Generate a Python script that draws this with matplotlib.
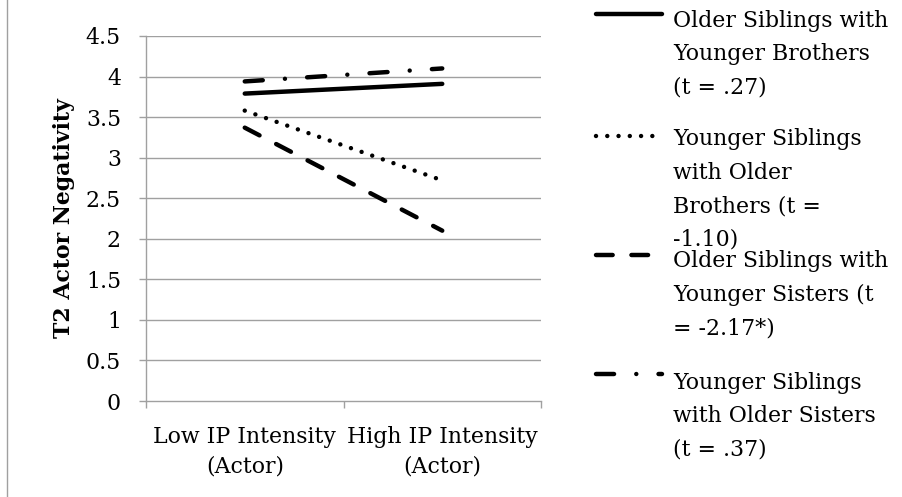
import matplotlib
matplotlib.use('Agg')
import matplotlib.pyplot as plt
from matplotlib.lines import Line2D

plt.rcParams['font.family'] = ['DejaVu Serif']
plt.rcParams['lines.scale_dashes'] = False

# data
categories = ['Low IP Intensity\n(Actor)', 'High IP Intensity\n(Actor)']
older_yb = [3.79, 3.91]   # Older Siblings with Younger Brothers
younger_ob = [3.58, 2.72] # Younger Siblings with Older Brothers
older_ys = [3.37, 2.10]   # Older Siblings with Younger Sisters
younger_os = [3.94, 4.10] # Younger Siblings with Older Sisters

labels = ['Older Siblings with\nYounger Brothers\n(t = .27)',
          'Younger Siblings\nwith Older\nBrothers (t =\n-1.10)',
          'Older Siblings with\nYounger Sisters (t\n= -2.17*)',
          'Younger Siblings\nwith Older Sisters\n(t = .37)']
yticks = [0, 0.5, 1, 1.5, 2, 2.5, 3, 3.5, 4, 4.5]
ytick_labels = ['0', '0.5', '1', '1.5', '2', '2.5', '3', '3.5', '4', '4.5']

W, H = 902, 497
fig = plt.figure(figsize=(W / 100, H / 100), dpi=100)
ax = fig.add_axes([146 / W, 1 - 401 / H, (541 - 146) / W, (401 - 36) / H])

lw = 3.2
styles = [
    dict(ls='-', solid_capstyle='round'),
    dict(ls=(0, (0.01, 8.1)), dash_capstyle='round'),
    dict(ls=(0, (12.0, 13.5)), dash_capstyle='round'),
    dict(ls=(0, (13.0, 16.0, 0.01, 16.0)), dash_capstyle='round'),
]
series = [older_yb, younger_ob, older_ys, younger_os]

x = [0, 1]
for s, st in zip(series, styles):
    ax.plot(x, s, color='black', lw=lw, **st)

fs = 15.8
ax.set_xlim(-0.5, 1.5)
ax.set_ylim(0, 4.5)
ax.set_yticks(yticks)
ax.set_yticklabels(ytick_labels)
ax.set_xticks([-0.5, 0.5, 1.5])
ax.set_xticklabels([])
ax.set_xticks(x, minor=True)
ax.set_xticklabels(categories, minor=True, linespacing=1.45)
ax.tick_params(axis='x', which='minor', length=0, pad=18, labelsize=fs)
ax.tick_params(axis='x', which='major', length=5, width=1, color='#a0a0a0', direction='out')
ax.tick_params(axis='y', length=5, width=1, color='#a0a0a0', pad=13, labelsize=fs)

for yv in yticks[1:]:
    ax.axhline(yv, color='#a0a0a0', lw=1.0, zorder=0)
for sp in ['top', 'right']:
    ax.spines[sp].set_visible(False)
for sp in ['left', 'bottom']:
    ax.spines[sp].set_color('#a0a0a0')
    ax.spines[sp].set_linewidth(1.0)

ax.set_ylabel('T2 Actor Negativity', fontsize=fs, fontweight='bold', labelpad=8)

# left frame edge
fig.add_artist(Line2D([7 / W, 7 / W], [0, 1], color='#a0a0a0', lw=1.0))

# legend drawn by hand
lax = fig.add_axes([0, 0, 1, 1])
lax.set_xlim(0, W)
lax.set_ylim(H, 0)
lax.axis('off')
sample_y = [14, 136, 255, 374]
text_y = [18, 137, 259, 380]
for st, sy, ty, lab in zip(styles, sample_y, text_y, labels):
    lax.plot([596, 662], [sy, sy], color='black', lw=lw, **st)
    for i, line in enumerate(lab.split('\n')):
        lax.text(673, ty + 33.3 * i, line, fontsize=fs, va='center_baseline', ha='left')

fig.savefig('out.png', dpi=100)
